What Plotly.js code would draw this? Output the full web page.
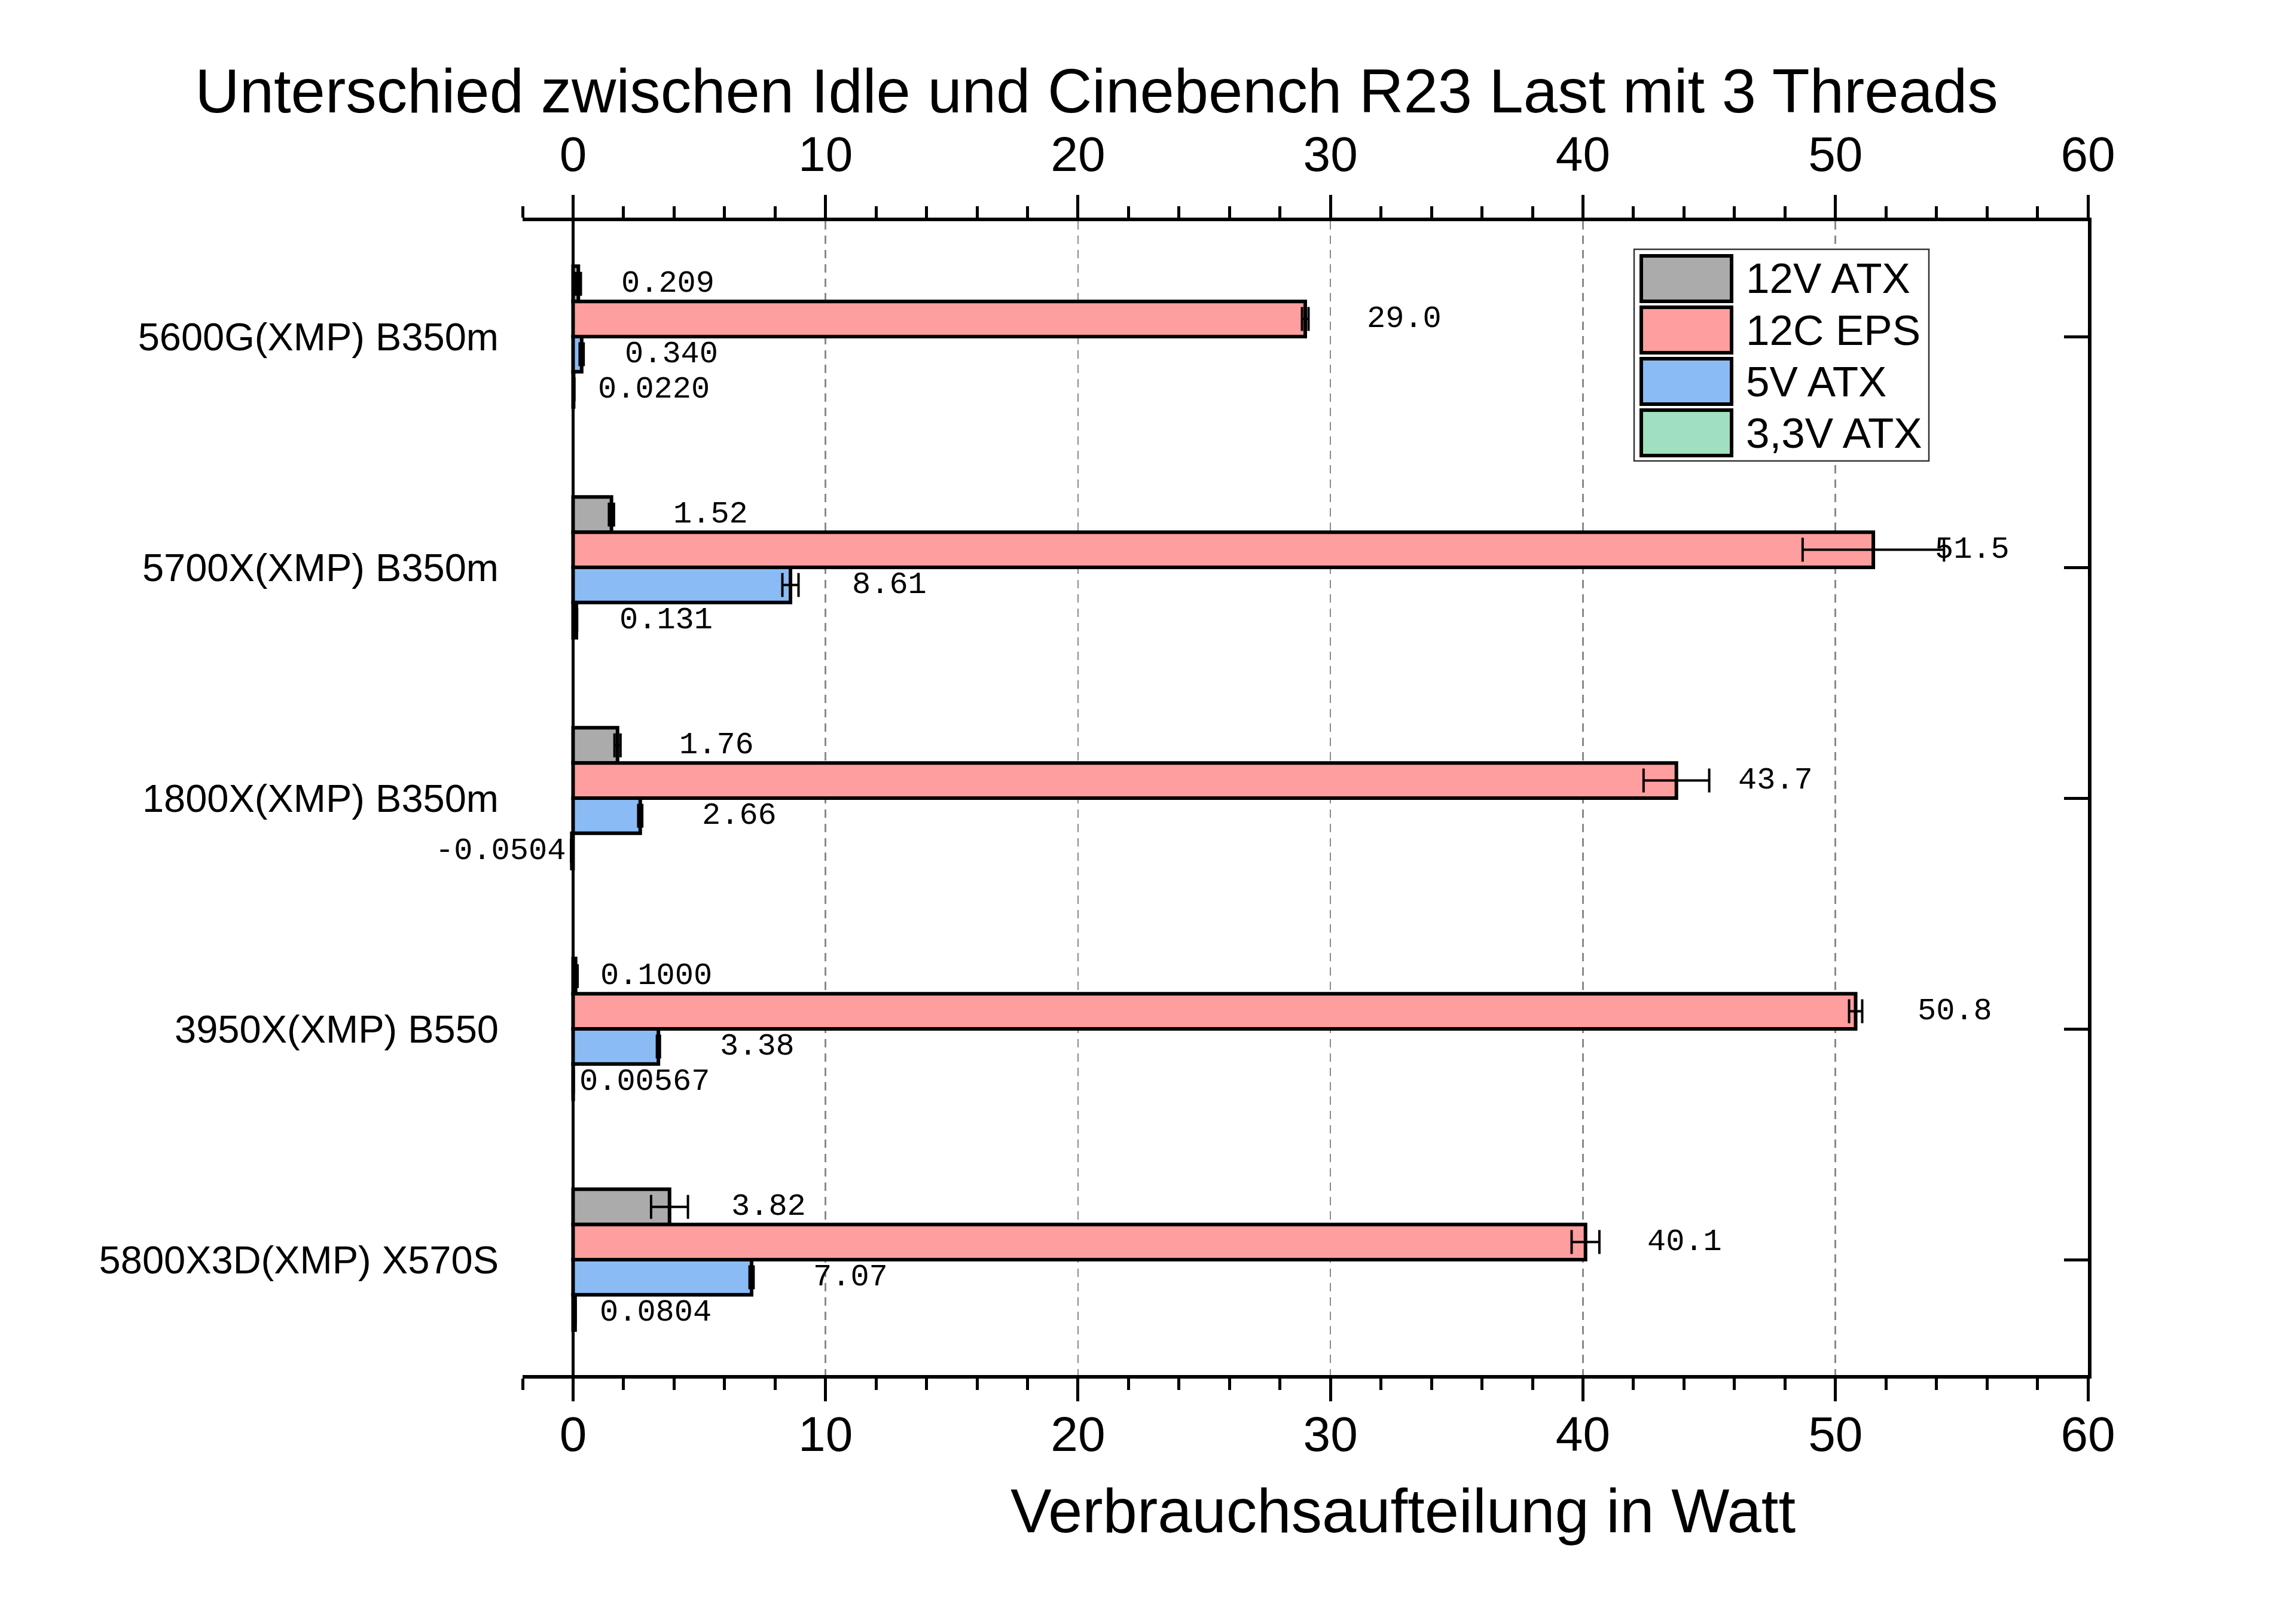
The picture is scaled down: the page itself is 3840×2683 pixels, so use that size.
<!DOCTYPE html>
<html>
<head>
<meta charset="utf-8">
<script src="https://cdn.plot.ly/plotly-3.0.1.min.js"></script>
<style>html,body{margin:0;padding:0;background:#fff;}</style>
</head>
<body>
<div id="chart" style="width:3840px;height:2683px;"></div>
<script>
// ---- data ----
const categories = ['5600G(XMP) B350m', '5700X(XMP) B350m', '1800X(XMP) B350m', '3950X(XMP) B550', '5800X3D(XMP) X570S'];
const seriesNames = ['12V ATX', '12C EPS', '5V ATX', '3,3V ATX'];
const seriesColors = ['#ABABAB', '#FF9E9E', '#8ABBF5', '#A0DFC0'];

const v12ATX = [0.209, 1.52, 1.76, 0.1000, 3.82];
const v12EPS = [29.0, 51.5, 43.7, 50.8, 40.1];
const v5ATX  = [0.340, 8.61, 2.66, 3.38, 7.07];
const v33ATX = [0.0220, 0.131, -0.0504, 0.00567, 0.0804];

const e12ATX = [0.10, 0.10, 0.12, 0.08, 0.73];
const e12EPS = [0.13, 2.80, 1.30, 0.26, 0.55];
const e5ATX  = [0.08, 0.32, 0.08, 0.06, 0.08];
const e33ATX = [0.03, 0.03, 0.03, 0.02, 0.02];

const l12ATX = ['0.209', '1.52', '1.76', '0.1000', '3.82'];
const l12EPS = ['29.0', '51.5', '43.7', '50.8', '40.1'];
const l5ATX  = ['0.340', '8.61', '2.66', '3.38', '7.07'];
const l33ATX = ['0.0220', '0.131', '-0.0504', '0.00567', '0.0804'];

const xTickVals = [0, 10, 20, 30, 40, 50, 60];

// ---- build ----
const values = [v12ATX, v12EPS, v5ATX, v33ATX];
const errors = [e12ATX, e12EPS, e5ATX, e33ATX];
const labels = [l12ATX, l12EPS, l5ATX, l33ATX];
const catPos = categories.map((c, i) => i);

const W = 3840, H = 2683;
const M = {l: 874, r: W - 3492, t: 370, b: H - 2300};
const plotW = W - M.l - M.r, plotH = H - M.t - M.b;
const px2x = px => (px - M.l) / plotW;
const py2y = py => 1 - (py - M.t) / plotH;

const BARGAP = 0.39;
const nS = seriesNames.length;
const slot = (1 - BARGAP) / nS;

const traces = values.map((vals, k) => ({
  type: 'bar',
  orientation: 'h',
  name: seriesNames[k],
  x: vals,
  y: catPos,
  xaxis: 'x',
  yaxis: 'y',
  marker: {color: seriesColors[k], line: {color: '#000', width: 6}},
  error_x: {type: 'data', array: errors[k], visible: true, color: '#000', thickness: 4, width: 20},
  showlegend: false,
  hoverinfo: 'x+y'
}));

const annotations = [];
values.forEach((vals, k) => {
  vals.forEach((v, i) => {
    const neg = v < 0;
    annotations.push({
      x: v, y: i + (k - (nS - 1) / 2) * slot, xref: 'x', yref: 'y',
      text: labels[k][i], showarrow: false,
      xanchor: neg ? 'left' : 'right', yanchor: 'middle',
      xshift: neg ? -230 : 230,
      font: {family: 'Liberation Mono, DejaVu Sans Mono, monospace', size: 52, color: '#000'}
    });
  });
});

// axis title
annotations.push({
  x: px2x(2346), y: py2y(2527), xref: 'paper', yref: 'paper',
  text: 'Verbrauchsaufteilung in Watt', showarrow: false,
  xanchor: 'center', yanchor: 'middle',
  font: {family: 'Liberation Sans, Arial, sans-serif', size: 103, color: '#000'}
});

// custom legend
const shapes = [{
  type: 'rect', xref: 'paper', yref: 'paper', layer: 'above',
  x0: px2x(2733), x1: px2x(3226), y0: py2y(417), y1: py2y(771),
  fillcolor: '#fff', line: {color: '#333', width: 2.5}
}];
const legTop = 428, legStep = 86, legH = 76;
seriesNames.forEach((name, k) => {
  const top = legTop + k * legStep;
  shapes.push({
    type: 'rect', xref: 'paper', yref: 'paper', layer: 'above',
    x0: px2x(2745), x1: px2x(2896), y0: py2y(top), y1: py2y(top + legH),
    fillcolor: seriesColors[k], line: {color: '#000', width: 6}
  });
  annotations.push({
    x: px2x(2918), y: py2y(top + legH / 2), xref: 'paper', yref: 'paper',
    text: name, showarrow: false, xanchor: 'left', yanchor: 'middle',
    font: {family: 'Liberation Sans, Arial, sans-serif', size: 71, color: '#000'}
  });
});

const axisFont = {family: 'Liberation Sans, Arial, sans-serif', size: 82, color: '#000'};
const xCommon = {
  range: [-2, 60],
  tickvals: xTickVals,
  ticks: 'outside', ticklen: 38, tickwidth: 5, tickcolor: '#000',
  minor: {dtick: 2, tick0: 0, ticks: 'outside', ticklen: 19, tickwidth: 5, tickcolor: '#000', showgrid: false},
  showline: true, linewidth: 6, linecolor: '#000',
  tickfont: axisFont,
  fixedrange: true
};

const layout = {
  width: W, height: H,
  margin: M,
  paper_bgcolor: '#fff', plot_bgcolor: '#fff',
  barmode: 'group', bargap: BARGAP, bargroupgap: 0,
  title: {
    text: 'Unterschied zwischen Idle und Cinebench R23 Last mit 3 Threads',
    x: 1834 / W, xref: 'container', xanchor: 'center',
    y: 1 - 152 / H, yref: 'container', yanchor: 'middle',
    font: {family: 'Liberation Sans, Arial, sans-serif', size: 103, color: '#000'}
  },
  xaxis: Object.assign({}, xCommon, {
    side: 'bottom', anchor: 'y',
    ticklabelstandoff: -15,
    showgrid: true, gridcolor: '#8a8a8a', gridwidth: 2.5, griddash: '14px,10px',
    zeroline: true, zerolinecolor: '#000', zerolinewidth: 5
  }),
  xaxis2: Object.assign({}, xCommon, {
    side: 'top', overlaying: 'x', anchor: 'y',
    ticklabelstandoff: 7,
    showgrid: false, zeroline: false
  }),
  yaxis: {
    range: [categories.length - 0.5, -0.5],
    tickvals: catPos, ticktext: categories,
    ticks: 'outside', ticklen: 26, tickcolor: 'rgba(0,0,0,0)',
    showline: false, showgrid: false, zeroline: false,
    tickfont: {family: 'Liberation Sans, Arial, sans-serif', size: 65, color: '#000'},
    fixedrange: true
  },
  yaxis2: {
    range: [categories.length - 0.5, -0.5],
    overlaying: 'y', side: 'right', anchor: 'x',
    tickvals: catPos, showticklabels: false,
    ticks: 'inside', ticklen: 40, tickwidth: 5, tickcolor: '#000',
    showline: true, linewidth: 6, linecolor: '#000',
    showgrid: false, zeroline: false, fixedrange: true
  },
  shapes: shapes,
  annotations: annotations,
  showlegend: false
};

// invisible helper traces so the overlay axes are drawn
traces.push({type: 'scatter', x: [null], y: [null], xaxis: 'x2', yaxis: 'y', showlegend: false, hoverinfo: 'skip'});
traces.push({type: 'scatter', x: [null], y: [null], xaxis: 'x', yaxis: 'y2', showlegend: false, hoverinfo: 'skip'});

Plotly.newPlot('chart', traces, layout, {staticPlot: true, displayModeBar: false});
</script>
</body>
</html>
